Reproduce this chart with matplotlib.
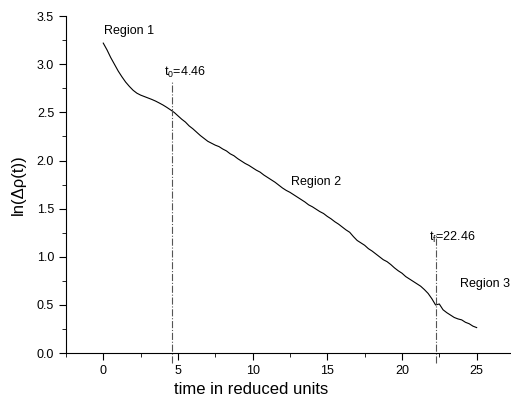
import numpy as np
import matplotlib.pyplot as plt
from matplotlib.ticker import MultipleLocator

plt.rcParams['font.family'] = ['Liberation Sans', 'DejaVu Sans']

# time grid (reduced units) and ln(delta rho)
t = np.arange(0, 25.01, 0.25)
ln_drho = [3.22, 3.15, 3.07, 3.00, 2.93, 2.87, 2.815, 2.77, 2.73, 2.70,   # 0 .. 2.25
           2.68, 2.665, 2.65, 2.635, 2.618, 2.598, 2.577, 2.553, 2.527, 2.50,  # 2.5 .. 4.75
           2.465, 2.43, 2.40, 2.36, 2.33, 2.295, 2.26, 2.23, 2.20, 2.18,    # 5 .. 7.25
           2.16, 2.145, 2.12, 2.10, 2.07, 2.05, 2.02, 1.995, 1.97, 1.95,    # 7.5 .. 9.75
           1.925, 1.90, 1.88, 1.85, 1.825, 1.80, 1.775, 1.745, 1.715, 1.69,  # 10 .. 12.25
           1.67, 1.645, 1.62, 1.595, 1.57, 1.54, 1.52, 1.495, 1.47, 1.45,   # 12.5 .. 14.75
           1.42, 1.395, 1.365, 1.34, 1.31, 1.28, 1.255, 1.21, 1.17, 1.145,  # 15 .. 17.25
           1.12, 1.085, 1.06, 1.03, 1.00, 0.97, 0.95, 0.92, 0.885, 0.855,   # 17.5 .. 19.75
           0.83, 0.795, 0.77, 0.745, 0.72, 0.695, 0.66, 0.62, 0.565, 0.50,  # 20 .. 22.25
           0.51, 0.45, 0.42, 0.395, 0.37, 0.355, 0.345, 0.32, 0.305, 0.28,  # 22.5 .. 24.75
           0.265]                                                          # 25

t0_line = 4.6      # where the t0 marker is drawn
tf_line = 22.3     # where the tf marker is drawn
t0_top = 2.83
tf_top = 1.23

fig = plt.figure(figsize=(5.11, 4.04), dpi=100)
ax = fig.add_axes([0.129, 0.126, 0.871, 0.834])

ax.plot(t, ln_drho, color='black', lw=0.8)

# dash-dot markers for t0 and tf
ax.plot([t0_line, t0_line], [-0.1, t0_top], color='#555555', lw=0.8, ls='-.', clip_on=False)
ax.plot([tf_line, tf_line], [-0.1, tf_top], color='#555555', lw=0.8, ls='-.', clip_on=False)

ax.text(0.05, 3.35, 'Region 1', fontsize=9, va='center')
ax.text(4.1, 2.92, r'$\mathregular{t_0}$=4.46', fontsize=9, va='center')
ax.text(12.6, 1.78, 'Region 2', fontsize=9, va='center')
ax.text(21.8, 1.20, r'$\mathregular{t_f}$=22.46', fontsize=9, va='center')
ax.text(23.9, 0.72, 'Region 3', fontsize=9, va='center')

ax.set_xlim(-2.5, 27.3)
ax.set_ylim(0, 3.5)
ax.xaxis.set_major_locator(MultipleLocator(5))
ax.xaxis.set_minor_locator(MultipleLocator(2.5))
ax.yaxis.set_major_locator(MultipleLocator(0.5))
ax.yaxis.set_minor_locator(MultipleLocator(0.25))
ax.yaxis.set_major_formatter(plt.FormatStrFormatter('%.1f'))

ax.spines['top'].set_visible(False)
ax.spines['right'].set_visible(False)
ax.tick_params(which='major', direction='out', length=5, labelsize=9)
ax.tick_params(which='minor', direction='out', length=3)

ax.set_xlabel('time in reduced units', fontsize=12)
ax.xaxis.set_label_coords(0.416, -0.085)
ax.set_ylabel('ln(Δρ(t))', fontsize=12)
ax.yaxis.set_label_coords(-0.09, 0.5)

fig.savefig('out.png', dpi=100)
